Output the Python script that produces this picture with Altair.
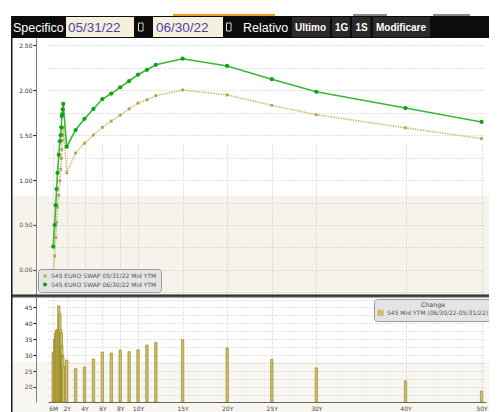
import altair as alt
import pandas as pd

# ---------------- data ----------------
tenor_years = [0.5, 0.66, 0.78, 0.88, 0.98, 1.12, 1.24, 1.33, 1.40, 1.45, 1.51, 1.56, 1.62,
               2, 3, 4, 5, 6, 7, 8, 9, 10, 11, 12, 15, 20, 25, 30, 40, 50]
curve_0531 = [-0.05, 0.155, 0.36, 0.53, 0.70, 0.83, 0.99, 1.12, 1.24, 1.34, 1.44, 1.50, 1.585,
              1.08, 1.30, 1.41, 1.50, 1.585, 1.655, 1.72, 1.79, 1.855, 1.89, 1.937, 2.00, 1.945,
              1.83, 1.725, 1.58, 1.46]
curve_0630 = [0.26, 0.50, 0.72, 0.90, 1.08, 1.28, 1.43, 1.50, 1.585, 1.71, 1.73, 1.785, 1.845,
              1.37, 1.555, 1.68, 1.79, 1.90, 1.96, 2.03, 2.10, 2.17, 2.225, 2.28, 2.348, 2.267,
              2.12, 1.98, 1.80, 1.645]
change_bp = [31, 35, 37, 38, 38, 45.5, 43, 38, 37, 33, 30, 29.5, 26.5,
             28.5, 25.8, 26.3, 28.8, 31, 30.7, 31.6, 31.1, 31.7, 33.2, 34, 34.9, 32.3,
             28.7, 26, 21.9, 18.7]
axis_tenors = [0.5, 2, 4, 6, 8, 10, 15, 20, 25, 30, 40, 50]
axis_labels = ["6M", "2Y", "4Y", "6Y", "8Y", "10Y", "15Y", "20Y", "25Y", "30Y", "40Y", "50Y"]
series_names = ["S45 EURO SWAP 05/31/22 Mid YTM", "S45 EURO SWAP 06/30/22 Mid YTM"]
change_name = "S45 Mid YTM (06/30/22-05/31/22)"
date_from, date_to = "05/31/22", "06/30/22"

# ---------------- tables ----------------
n = len(tenor_years)
curves = pd.DataFrame({
    "years": tenor_years * 2,
    "value": curve_0531 + curve_0630,
    "series": [series_names[0]] * n + [series_names[1]] * n,
})
changes = pd.DataFrame({"years": tenor_years, "change": change_bp, "lbl": [change_name] * n})
one = pd.DataFrame({"k": [0]})

W, H = 453, 364
UP_H = 258
GREEN_L, GREEN_P = "#36b936", "#159f15"
BEIGE_L, BEIGE_P = "#cbbd78", "#b5a34a"
AX_FONT = "DejaVu Sans"
HFONT = "Liberation Sans, Arial, sans-serif"

label_expr = " : ".join(f"datum.value == {v} ? '{l}'" for v, l in zip(axis_tenors, axis_labels)) + " : ''"
xscale = alt.Scale(domain=[0.5, 2, 40, 50], range=[12, 30.7, 369.5, 450])
xaxis = alt.Axis(values=axis_tenors, labelExpr=label_expr, title=None, grid=True,
                 gridColor="#c4c4c4", gridDash=[1, 2], ticks=False, domainColor="#555",
                 labelFont=AX_FONT, labelFontSize=6, labelColor="#333", labelPadding=3,
                 labelFlush=False)
X = alt.X("years:Q", scale=xscale, axis=xaxis)

# ---------------- upper panel ----------------
UMIN, UMAX = -0.289, 2.578
yscale_u = alt.Scale(domain=[UMIN, UMAX], range=[UP_H, 0], nice=False, zero=False)
is_half = "abs(datum.value*2 - round(datum.value*2)) < 0.001"
yaxis_u = alt.Axis(values=[i * 0.25 for i in range(-1, 11)], orient="left", title=None,
                   labelExpr=f"{is_half} ? format(datum.value, '.2f') : ''",
                   tickColor={"condition": {"test": is_half, "value": "#222"}, "value": "transparent"},
                   tickSize=3, tickWidth=1.2, grid=True, gridColor="#c4c4c4", gridDash=[1, 2],
                   domainColor="#777", labelFont=AX_FONT, labelFontSize=6, labelColor="#333",
                   labelPadding=1)
Yu = alt.Y("value:Q", scale=yscale_u, axis=yaxis_u)

beige_up = alt.Chart(one).mark_rect(color="#cfc49f", opacity=0.2).encode(
    x=alt.value(-24), x2=alt.value("width"),
    y=alt.Y(datum=0.82, scale=yscale_u, axis=yaxis_u), y2=alt.Y2(datum=UMIN))

line_old = alt.Chart(curves).transform_filter(alt.datum.series == series_names[0]).mark_line(
    color=BEIGE_L, strokeWidth=1.6, strokeDash=[1.5, 1]).encode(x=X, y=Yu)
line_new = alt.Chart(curves).transform_filter(alt.datum.series == series_names[1]).mark_line(
    color=GREEN_L, strokeWidth=1.6).encode(x=X, y=Yu)
pts = alt.Chart(curves).mark_point(filled=True, opacity=1).encode(
    x=X, y=Yu,
    color=alt.Color("series:N", scale=alt.Scale(domain=series_names, range=[BEIGE_P, GREEN_P]),
                    legend=alt.Legend(title=None, orient="none", legendX=2, legendY=231,
                                      fillColor="#e4e4e4", strokeColor="#9a9a9a", cornerRadius=3,
                                      padding=4, labelFont=AX_FONT, labelFontSize=6,
                                      labelColor="#555", symbolSize=16, rowPadding=2.5,
                                      labelOffset=3, symbolStrokeWidth=0)),
    shape=alt.Shape("series:N", scale=alt.Scale(domain=series_names, range=["square", "circle"]),
                    legend=alt.Legend(title=None, orient="none", legendX=2, legendY=231)),
    size=alt.Size("series:N", scale=alt.Scale(domain=series_names, range=[8, 18]), legend=None),
)
upper = alt.layer(beige_up, line_old, line_new, pts)

# ---------------- lower panel ----------------
LMIN, LMAX = 15.28, 48.3
yscale_l = alt.Scale(domain=[LMIN, LMAX], range=[H, UP_H + 1], nice=False, zero=False)
is_five = "datum.value % 5 == 0"
yaxis_l = alt.Axis(values=[17.5 + 2.5 * i for i in range(13)], orient="left", title=None,
                   labelExpr=f"{is_five} ? format(datum.value, 'd') : ''",
                   tickColor={"condition": {"test": is_five, "value": "#222"}, "value": "transparent"},
                   tickSize=3, tickWidth=1.2, grid=True, gridColor="#c4c4c4", gridDash=[1, 2],
                   domainColor="#777", labelFont=AX_FONT, labelFontSize=6, labelColor="#333",
                   labelPadding=1)
beige_low = alt.Chart(one).mark_rect(color="#cfc49f", opacity=0.15).encode(
    x=alt.value(-24), x2=alt.value("width"),
    y=alt.Y(datum=27.9, scale=yscale_l, axis=yaxis_l), y2=alt.value(H + 12))
bars = alt.Chart(changes).mark_bar(width=2.4, stroke="#8f7f12", strokeWidth=0.6).encode(
    x=X,
    y=alt.Y("change:Q", scale=yscale_l, axis=yaxis_l),
    y2=alt.Y2(datum=LMIN),
    color=alt.Color("lbl:N", scale=alt.Scale(range=["#cdbf70"]),
                    legend=alt.Legend(title="Change", orient="none", legendX=338, legendY=261,
                                      titleAnchor="middle", titleFont=AX_FONT, titleFontSize=6.3,
                                      titleFontWeight="normal", titleColor="#444",
                                      fillColor="#e4e4e4", strokeColor="#9a9a9a", cornerRadius=3,
                                      padding=3, labelFont=AX_FONT, labelFontSize=6,
                                      labelColor="#555", symbolType="square", symbolSize=28,
                                      symbolFillColor="#efe9c8", symbolStrokeColor="#c9bb70",
                                      symbolStrokeWidth=1, titlePadding=1, labelLimit=400,
                                      labelOffset=3)),
)
lower = alt.layer(beige_low, bars)

# ---------------- frame / header ----------------
def box(x1, x2, y1, y2, color, **kw):
    return alt.Chart(one).mark_rect(color=color, **kw).encode(
        x=alt.value(x1), x2=alt.value(x2), y=alt.value(y1), y2=alt.value(y2))

def txt(t, x, color, size, weight="normal"):
    return alt.Chart(one).mark_text(text=t, align="left", baseline="middle", color=color,
                                    fontSize=size, font=HFONT, fontWeight=weight).encode(
        x=alt.value(x), y=alt.value(-10.5))

deco = [
    box(-24, W, 257, 259.5, "#4d4d4d"),
    box(-24, W, 256.5, 257.5, "#222"),
    box(-25, -23.5, -22, H + 12, "#1a1a1a"),
    box(-24, W, -22, 0, "#0c0c0c"),
    box(137, 239, -24, -22, "#f39a24"),
    box(317, 351, -24, -22, "#8a8a8a"),
    box(397, 434, -24, -22, "#8a8a8a"),
    box(30, 98, -21, -1, "#f4f0dc"),
    box(117, 187, -21, -1, "#f4f0dc"),
    box(102.5, 107, -15, -7, "#000", stroke="#ddd", strokeWidth=1),
    box(190.5, 195, -15, -7, "#000", stroke="#ddd", strokeWidth=1),
    box(256, 294, -21, -1, "#2a2a2a"),
    box(296, 314, -21, -1, "#2a2a2a"),
    box(316, 334.5, -21, -1, "#2a2a2a"),
    box(337, 394, -21, -1, "#2a2a2a"),
    txt("Specifico", -23, "#ffffff", 12.5),
    txt(date_from, 32, "#4a46a8", 13.5),
    txt(date_to, 120, "#4a46a8", 13.5),
    txt("Relativo", 207, "#ffffff", 12.5),
    txt("Ultimo", 259, "#ffffff", 10, "bold"),
    txt("1G", 299, "#ffffff", 10, "bold"),
    txt("1S", 319.5, "#ffffff", 10, "bold"),
    txt("Modificare", 340, "#ffffff", 10, "bold"),
]

chart = alt.layer(upper, lower, *deco).resolve_scale(
    y="independent", color="independent", shape="independent", size="independent"
).resolve_axis(y="independent").properties(
    width=W, height=H,
    autosize=alt.AutoSizeParams(type="none"),
    padding={"left": 28, "top": 30, "right": 0, "bottom": 10},
    background="white",
).configure_view(strokeWidth=0)

chart.save("out.html", embed_options={"renderer": "svg", "actions": False})
